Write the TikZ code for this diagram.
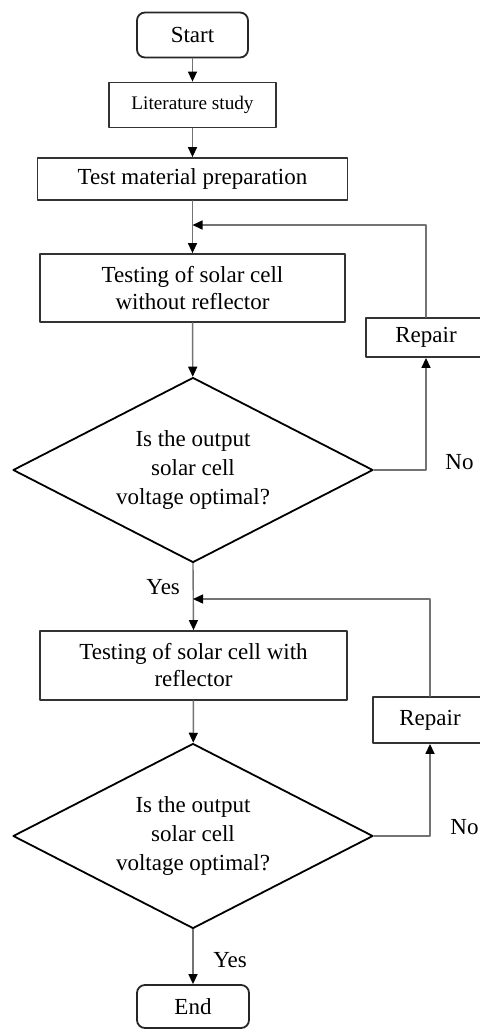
\documentclass[tikz,border=0pt]{standalone}
\usepackage{fontspec}
\setmainfont{Liberation Serif}
\usepackage{pgf,tikz}
\usetikzlibrary{arrows.meta}
\usetikzlibrary{shapes.geometric}
\usetikzlibrary{positioning}
\definecolor{linegray}{rgb}{0.45,0.45,0.45}

\begin{document}
\begin{tikzpicture}[line cap=round,line join=round,x=0.5pt,y=-0.5pt,
  every node/.style={font=\fontsize{11.5}{13.5}\selectfont},
  terminal/.style={draw=black!85,line width=0.9pt,rounded corners=4pt,inner sep=0pt},
  stepbox/.style={draw=black!80,line width=0.9pt,rectangle,inner sep=0pt,align=center},
  decision/.style={draw=black,line width=0.9pt,diamond,aspect=1.95,inner sep=0pt,align=center,
    minimum width=180pt,minimum height=92.5pt,font=\fontsize{11.5}{14.5}\selectfont},
  flow/.style={draw=linegray,line width=0.7pt,-{Triangle[length=5pt,width=4.5pt,fill=black,color=black]}}]
\useasboundingbox (0,0) rectangle (480,1030);
% first loop
\node[terminal,minimum width=55.5pt,minimum height=22.5pt] (start) at (192.5,35) {Start};
\node[stepbox,minimum width=83.5pt,minimum height=22.5pt,font=\fontsize{9.6}{11}\selectfont] (lit) at (192.5,105) {Literature study};
\node[stepbox,minimum width=155pt,minimum height=21pt] (prep) at (192.5,179) {Test material preparation};
\node[stepbox,minimum width=152.5pt,minimum height=34pt] (test1) at (192.5,288) {Testing of solar cell\\without reflector};
\node[decision] (dec1) at (193,470) {Is the output\\solar cell\\voltage optimal?};
\node[stepbox,minimum width=60pt,minimum height=19.5pt] (repair1) at (426,337.5) {Repair};
\node[anchor=west,inner sep=0pt] (no1) at (445,462) {No};
\coordinate (j1) at (192.5,225);
\draw[flow] (start) -- (lit);
\draw[flow] (lit) -- (prep);
\draw[flow] (prep) -- (test1);
\draw[flow] (test1) -- (dec1);
\draw[flow] (dec1.east) -| (repair1.south);
\draw[flow] (repair1.north) |- (j1);
% second loop
\node[stepbox,minimum width=153.5pt,minimum height=34.5pt] (test2) at (193.5,665.5) {Testing of solar cell with\\reflector};
\node[decision] (dec2) at (193,836) {Is the output\\solar cell\\voltage optimal?};
\node[stepbox,minimum width=57pt,minimum height=23pt] (repair2) at (430,720) {Repair};
\node[terminal,minimum width=56pt,minimum height=21.5pt] (end) at (193,1006.5) {End};
\node[anchor=east] (yes1) at (187,587) {Yes};
\node (yes2) at (230,960) {Yes};
\node[anchor=west,inner sep=0pt] (no2) at (450,827) {No};
\coordinate (j2) at (193,599);
\draw[flow] (dec1.south) -- (test2.north);
\draw[flow] (test2) -- (dec2);
\draw[flow] (dec2.east) -| (repair2.south);
\draw[flow] (repair2.north) |- (j2);
\draw[flow] (dec2.south) -- (end.north);
\end{tikzpicture}
\end{document}
